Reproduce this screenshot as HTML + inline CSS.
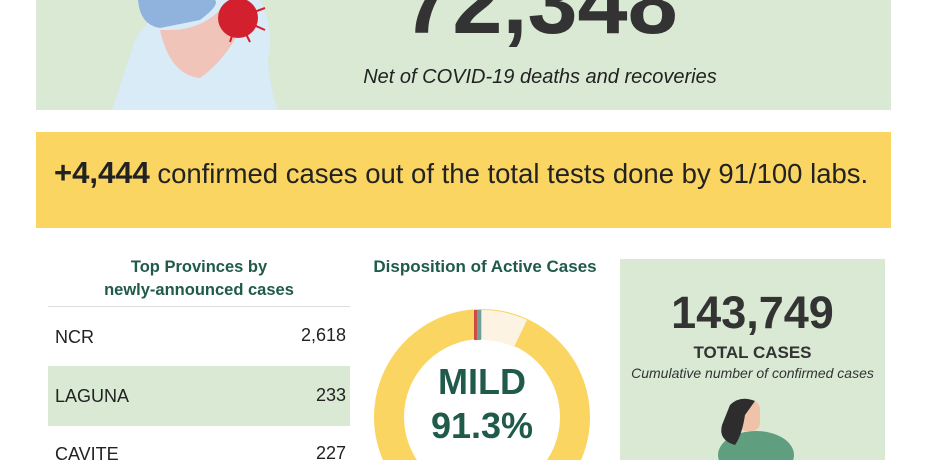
<!DOCTYPE html><html style="overflow:hidden"><head><style>
html,body{margin:0;width:927px;height:460px;overflow:hidden}
body{background:#fff;font-family:"Liberation Sans",sans-serif;position:relative}
.a{position:absolute}
</style></head><body>
<div class="a" style="left:0;top:0;width:927px;height:460px;overflow:hidden">
<div class="a" style="left:36px;top:0;width:855px;height:110px;background:#d9e9d4"></div>
<svg class="a" style="left:100px;top:0" width="200" height="110">
<path d="M12,110 L35,40 Q60,0 90,0 L160,0 Q175,30 168,60 Q170,90 178,110 Z" fill="#d8ebf7"/>
<path d="M38,0 Q40,25 60,28 L100,20 Q120,5 115,0Z" fill="#8fb3dc"/>
<path d="M60,30 Q70,75 100,78 Q125,60 140,30 L120,10 Q100,30 70,30Z" fill="#f1c4ba"/>
<circle cx="138" cy="18" r="20" fill="#d3202f"/>
<g stroke="#d3202f" stroke-width="2"><line x1="138" y1="18" x2="165" y2="30"/><line x1="138" y1="18" x2="150" y2="42"/><line x1="138" y1="18" x2="130" y2="42"/><line x1="138" y1="18" x2="165" y2="8"/></g>
</svg>
<div class="a" style="left:300px;top:-48px;width:480px;text-align:center;font-size:90px;font-weight:bold;color:#333">72,348</div>
<div class="a" style="left:300px;top:66px;width:480px;text-align:center;font-size:20px;font-style:italic;color:#222">Net of COVID-19 deaths and recoveries</div>
<div class="a" style="left:36px;top:132px;width:855px;height:96px;background:#fbd562"></div>
<div class="a" style="left:54px;top:155px;font-size:27.5px;color:#222;white-space:nowrap"><b style="font-size:31px">+4,444</b> confirmed cases out of the total tests done by 91/100 labs.</div>
<div class="a" style="left:48px;top:256px;width:302px;text-align:center;font-size:16.5px;font-weight:bold;color:#1f5a4a;line-height:23px">Top Provinces by<br>newly-announced cases</div>
<div class="a" style="left:48px;top:306px;width:302px;height:1px;background:#ddd"></div>
<div class="a" style="left:48px;top:366px;width:302px;height:60px;background:#d9e9d4"></div>
<div class="a" style="left:55px;top:327px;font-size:18px;color:#222">NCR</div><div class="a" style="left:250px;width:96px;text-align:right;top:325px;font-size:18px;color:#222">2,618</div>
<div class="a" style="left:55px;top:386px;font-size:18px;color:#222">LAGUNA</div><div class="a" style="left:250px;width:96px;text-align:right;top:385px;font-size:18px;color:#222">233</div>
<div class="a" style="left:55px;top:444px;font-size:18px;color:#222">CAVITE</div><div class="a" style="left:250px;width:96px;text-align:right;top:443px;font-size:18px;color:#222">227</div>
<div class="a" style="left:360px;top:257px;width:250px;text-align:center;font-size:17px;font-weight:bold;color:#1f5a4a">Disposition of Active Cases</div>
<svg class="a" style="left:370px;top:300px" width="230" height="160">
<circle cx="112" cy="117" r="93" fill="none" stroke="#fbd562" stroke-width="30"/>
<path d="M112,10 A107,107 0 0,1 157,20 L144,47 A77,77 0 0,0 112,40Z" fill="#fcf3e2"/>
<rect x="104" y="10" width="3" height="30" fill="#cf4c45"/><rect x="107" y="10" width="4" height="30" fill="#6fa09a"/>
</svg>
<div class="a" style="left:382px;top:360px;width:200px;text-align:center;font-size:36px;font-weight:bold;color:#1f5a4a;line-height:44px">MILD<br>91.3%</div>
<div class="a" style="left:620px;top:259px;width:265px;height:201px;background:#d9e9d4"></div>
<div class="a" style="left:620px;top:287px;width:265px;text-align:center;font-size:45px;font-weight:bold;color:#333">143,749</div>
<div class="a" style="left:620px;top:343px;width:265px;text-align:center;font-size:17px;font-weight:bold;color:#333">TOTAL CASES</div>
<div class="a" style="left:620px;top:365px;width:265px;text-align:center;font-size:14px;font-style:italic;color:#333">Cumulative number of confirmed cases</div>
<svg class="a" style="left:700px;top:395px" width="100" height="65">
<ellipse cx="56" cy="60" rx="38" ry="24" fill="#5f9e7f"/>
<rect x="38" y="6" width="22" height="30" rx="8" fill="#f0c3a8"/>
<path d="M30,10 Q40,0 55,6 L45,20 Q42,40 35,50 Q18,45 22,30 Z" fill="#2d2d2d"/>
</svg>
</div>
</body></html>
